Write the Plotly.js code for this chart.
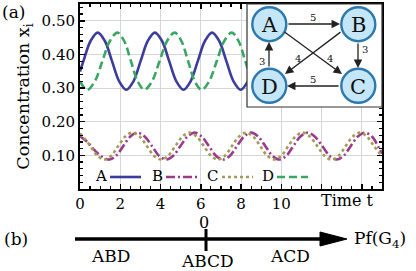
<!DOCTYPE html>
<html><head><meta charset="utf-8">
<script src="https://cdn.plot.ly/plotly-3.0.1.min.js"></script>
<style>html,body{margin:0;padding:0;background:#fff}#chart{width:416px;height:271px}</style>
</head><body><div id="chart"></div>
<script>
// ---- data ----
const tA = [0, 0.17, 0.525, 0.88, 1.235, 1.59, 1.945, 2.30, 2.655, 3.01, 3.365, 3.72, 4.075, 4.43, 4.785, 5.14, 5.495, 5.85, 6.205, 6.56, 6.915, 7.27, 7.625, 7.98, 8.335, 8.69];
const xA = [0.349, 0.38, 0.44, 0.465, 0.44, 0.38, 0.32, 0.295, 0.32, 0.38, 0.44, 0.465, 0.44, 0.38, 0.32, 0.295, 0.32, 0.38, 0.44, 0.465, 0.44, 0.38, 0.32, 0.295, 0.32, 0.38];
const tD = [0, 0.36, 0.735, 1.11, 1.485, 1.86, 2.195, 2.53, 2.865, 3.2, 3.575, 3.95, 4.325, 4.70, 5.035, 5.37, 5.705, 6.04, 6.415, 6.79, 7.165, 7.54, 7.875, 8.21, 8.545, 8.88];
const xD = [0.32, 0.295, 0.32, 0.38, 0.44, 0.465, 0.44, 0.38, 0.32, 0.295, 0.32, 0.38, 0.44, 0.465, 0.44, 0.38, 0.32, 0.295, 0.32, 0.38, 0.44, 0.465, 0.44, 0.38, 0.32, 0.295];
const tB = [0, 0.36, 0.73, 1.09, 1.45, 1.8, 2.15, 2.5, 2.85, 3.21, 3.57, 3.92, 4.28, 4.63, 4.99, 5.34, 5.69, 6.04, 6.4, 6.75, 7.1, 7.45, 7.8, 8.15, 8.5, 8.85, 9.2, 9.55, 9.9, 10.25, 10.6, 10.95, 11.3, 11.66, 12.03, 12.39, 12.75, 13.1, 13.45, 13.8, 14.15, 14.5, 14.85, 15];
const xB = [0.157, 0.14, 0.115, 0.096, 0.0875, 0.099, 0.128, 0.156, 0.1675, 0.156, 0.128, 0.099, 0.0875, 0.099, 0.128, 0.156, 0.1675, 0.156, 0.128, 0.099, 0.0875, 0.099, 0.128, 0.156, 0.1675, 0.156, 0.128, 0.099, 0.0875, 0.099, 0.128, 0.156, 0.1675, 0.156, 0.128, 0.099, 0.0875, 0.099, 0.128, 0.156, 0.1675, 0.156, 0.122, 0.105];
const tC = [0, 0.3, 0.6, 0.9, 1.2, 1.55, 1.9, 2.25, 2.6, 2.96, 3.32, 3.67, 4.03, 4.38, 4.74, 5.09, 5.44, 5.79, 6.15, 6.5, 6.85, 7.2, 7.55, 7.9, 8.25, 8.6, 8.95, 9.3, 9.65, 10.0, 10.35, 10.7, 11.05, 11.41, 11.78, 12.14, 12.5, 12.85, 13.2, 13.55, 13.9, 14.25, 14.6, 15];
const xC = [0.165, 0.145, 0.12, 0.097, 0.0875, 0.099, 0.128, 0.156, 0.1675, 0.156, 0.128, 0.099, 0.0875, 0.099, 0.128, 0.156, 0.1675, 0.156, 0.128, 0.099, 0.0875, 0.099, 0.128, 0.156, 0.1675, 0.156, 0.128, 0.099, 0.0875, 0.099, 0.128, 0.156, 0.1675, 0.156, 0.128, 0.099, 0.0875, 0.099, 0.128, 0.156, 0.1675, 0.156, 0.128, 0.098];
const seriesNames = ['A', 'B', 'C', 'D'];
const xTickVals = [0, 2, 4, 6, 8, 10, 12, 14];
const yTickVals = [0.1, 0.2, 0.3, 0.4, 0.5];
const yTickText = ['0.10', '0.20', '0.30', '0.40', '0.50'];
const nodeNames = ['A', 'B', 'C', 'D'];
const edgeWeights = ['5', '3', '5', '3', '4', '4']; // A→B, B→C, C→D, D→A, A→C, B→D
const bLabels = ['ABD', 'ABCD', 'ACD'];
const bZero = '0';
const bAxisLabel = 'Pf(G<sub>4</sub>)';

// ---- helpers (pixel -> paper) ----
const W = 416, H = 271;
const px = v => v / W;
const py = v => 1 - v / H;
const FONT = 'DejaVu Serif';

const colA = '#3c3c9c', colB = '#9b3a8c', colC = '#a39b55', colD = '#3aa663';
const lw = 2.6;
const dashes = {A: 'solid', B: '9px,3px,2px,3px', C: '3px,3px', D: '8px,4px'};
const cols = {A: colA, B: colB, C: colC, D: colD};

const traces = [
  {x: tA, y: xA, name: 'A', type: 'scatter', mode: 'lines', line: {color: colA, width: lw, shape: 'spline', dash: dashes.A}},
  {x: tB, y: xB, name: 'B', type: 'scatter', mode: 'lines', line: {color: colB, width: lw, shape: 'spline', dash: dashes.B}},
  {x: tC, y: xC, name: 'C', type: 'scatter', mode: 'lines', line: {color: colC, width: lw, shape: 'spline', dash: dashes.C}},
  {x: tD, y: xD, name: 'D', type: 'scatter', mode: 'lines', line: {color: colD, width: lw, shape: 'spline', dash: dashes.D}}
];

const shapes = [];
const annotations = [];
const txt = (t, x, y, size, color) => annotations.push({text: t, x: px(x), y: py(y), xref: 'paper', yref: 'paper',
  showarrow: false, font: {family: FONT, size: size, color: color || '#000'}, xanchor: 'center', yanchor: 'middle'});

// legend (text then line sample)
const legendPos = [[101, 110, 141], [157, 166, 198], [212, 222, 253], [268, 277, 308]];
const legY = 177;
seriesNames.forEach((n, i) => {
  const [tx, x0, x1] = legendPos[i];
  txt(n, tx, legY - 1, 15);
  shapes.push({type: 'line', xref: 'paper', yref: 'paper', x0: px(x0), x1: px(x1), y0: py(legY), y1: py(legY),
    line: {color: cols[n], width: lw, dash: dashes[n]}, layer: 'above'});
});

// inset box
shapes.push({type: 'rect', xref: 'paper', yref: 'paper', x0: px(247), x1: px(382), y0: py(107), y1: py(4),
  fillcolor: '#ffffff', line: {color: '#333', width: 1.2}, layer: 'above'});
const nodePos = [[269.3, 24.2], [358.3, 24.2], [358.3, 85.8], [269.3, 85.8]];
const R = 17;
nodePos.forEach(([cx, cy], i) => {
  shapes.push({type: 'circle', xref: 'paper', yref: 'paper', x0: px(cx - R), x1: px(cx + R), y0: py(cy + R), y1: py(cy - R),
    fillcolor: '#c4e6f6', line: {color: '#2c79ae', width: 2.4}, layer: 'above'});
  txt(nodeNames[i], cx, cy + 1, 21, '#111');
});
// edges: [headX, headY, tailX, tailY]
const edges = [[340, 24, 287, 24], [358, 68, 358, 42], [287, 86, 340, 86], [269, 42, 269, 68], [342, 74, 283, 31], [285, 74, 342, 31]];
edges.forEach(([hx, hy, tx, ty]) => {
  annotations.push({text: '', x: px(hx), y: py(hy), xref: 'paper', yref: 'paper', ax: tx - hx, ay: ty - hy,
    showarrow: true, arrowhead: 2, arrowsize: 1.3, arrowwidth: 1.3, arrowcolor: '#222', standoff: 0, startstandoff: 0});
});
const weightPos = [[313, 17], [365, 49], [313, 79], [262, 61], [330, 58], [298, 58]];
weightPos.forEach(([x, y], i) => txt(edgeWeights[i], x, y, 10, '#111'));

// panel labels & x title
txt('(a)', 13, 12, 17);
txt('(b)', 16, 239, 17);
txt('Time t', 347, 201, 16);

// panel (b)
shapes.push({type: 'line', xref: 'paper', yref: 'paper', x0: px(75), x1: px(325), y0: py(239), y1: py(239),
  line: {color: '#000', width: 3.5}});
shapes.push({type: 'path', xref: 'paper', yref: 'paper',
  path: `M ${px(320)} ${py(232)} L ${px(347)} ${py(239)} L ${px(320)} ${py(246)} Z`, fillcolor: '#000', line: {color: '#000', width: 1}});
shapes.push({type: 'line', xref: 'paper', yref: 'paper', x0: px(206), x1: px(206), y0: py(229), y1: py(251),
  line: {color: '#000', width: 3}});
txt(bZero, 204, 222, 16);
[[110, 256], [207, 261], [290, 256]].forEach(([x, y], i) => txt(bLabels[i], x, y, 17));
txt(bAxisLabel, 380, 239, 17);

const axCommon = {
  ticks: 'inside', ticklen: 5, tickwidth: 1.4, tickcolor: '#000',
  showline: true, linewidth: 2, linecolor: '#000', mirror: 'allticks',
  showgrid: true, gridcolor: '#d6d6d6', gridwidth: 1, zeroline: false,
  tickfont: {family: FONT, size: 15, color: '#000'}, automargin: false
};

const layout = {
  width: W, height: H,
  margin: {l: 0, r: 0, t: 0, b: 0},
  paper_bgcolor: '#fff', plot_bgcolor: '#fff',
  font: {family: FONT, color: '#000'},
  showlegend: false,
  xaxis: Object.assign({}, axCommon, {
    domain: [px(80), px(382)], range: [0, 15],
    tickmode: 'array', tickvals: xTickVals, labelalias: {'12': ' ', '14': ' '},
    minor: {tickmode: 'linear', tick0: 0, dtick: 0.5, ticks: 'inside', ticklen: 3, tickcolor: '#000', tickwidth: 1.2, showgrid: false}
  }),
  yaxis: Object.assign({}, axCommon, {
    domain: [py(189), py(4)], range: [0, 0.55],
    tickmode: 'array', tickvals: yTickVals, ticktext: yTickText,
    minor: {tickmode: 'linear', tick0: 0, dtick: 0.02, ticks: 'inside', ticklen: 3, tickcolor: '#000', tickwidth: 1.2, showgrid: false},
    title: {text: 'Concentration x<sub>i</sub>', font: {family: FONT, size: 17.5, color: '#000'}, standoff: 7}
  }),
  shapes: shapes,
  annotations: annotations
};

Plotly.newPlot('chart', traces, layout, {staticPlot: true, displayModeBar: false});
</script></body></html>
